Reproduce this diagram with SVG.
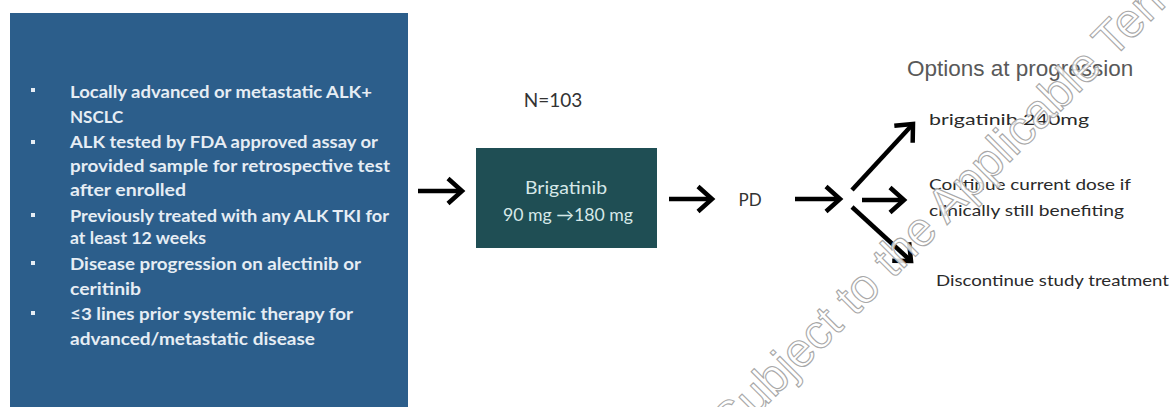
<svg xmlns="http://www.w3.org/2000/svg" width="1172" height="407" viewBox="0 0 1172 407">
  <defs>
    <style>
      .crit { font-family: Lato, "Liberation Sans", sans-serif; font-size: 17px; font-weight: bold; fill: #e6edf4; }
      .box { font-family: Lato, "Liberation Sans", sans-serif; font-size: 17px; fill: #d6e8e8; text-anchor: middle; }
      .lbl { font-family: Lato, "Liberation Sans", sans-serif; fill: #333333; }
      .opt { font-family: Lato, "Liberation Sans", sans-serif; font-size: 16px; fill: #2a2a2a; }
      .arrow { stroke: #000; stroke-width: 4.5; fill: none; marker-end: url(#head); }
      .wm { font-family: "Liberation Sans", Arial, sans-serif; font-size: 48px; fill: #ffffff; fill-opacity: 0.85; stroke: #a8a8a8; stroke-width: 1.1; }
    </style>
    <marker id="head" viewBox="-18 -16 22 32" markerWidth="22" markerHeight="32" refX="0" refY="0" orient="auto" markerUnits="userSpaceOnUse" overflow="visible">
      <path d="M-14,-12.5 L0,0 L-14,12.5" fill="none" stroke="#000" stroke-width="4.5" stroke-linejoin="miter"/>
    </marker>
  </defs>
  <rect width="1172" height="407" fill="#ffffff"/>

  <g id="criteria">
    <rect x="10" y="13" width="398" height="400" fill="#2c5e8b"/>
    <g fill="#e6edf4">
      <rect x="31" y="88" width="4" height="4"/>
      <rect x="31" y="140" width="4" height="4"/>
      <rect x="31" y="213" width="4" height="4"/>
      <rect x="31" y="261" width="4" height="4"/>
      <rect x="31" y="311" width="4" height="4"/>
    </g>
    <text class="crit" x="70" y="98" textLength="302" lengthAdjust="spacingAndGlyphs">Locally advanced or metastatic ALK+</text>
    <text class="crit" x="70" y="123">NSCLC</text>
    <text class="crit" x="70" y="148" textLength="308" lengthAdjust="spacingAndGlyphs">ALK tested by FDA approved assay or</text>
    <text class="crit" x="70" y="172" textLength="320" lengthAdjust="spacingAndGlyphs">provided sample for retrospective test</text>
    <text class="crit" x="70" y="196" textLength="116" lengthAdjust="spacingAndGlyphs">after enrolled</text>
    <text class="crit" x="70" y="222" textLength="319" lengthAdjust="spacingAndGlyphs">Previously treated with any ALK TKI for</text>
    <text class="crit" x="70" y="244" textLength="136" lengthAdjust="spacingAndGlyphs">at least 12 weeks</text>
    <text class="crit" x="70" y="270" textLength="291" lengthAdjust="spacingAndGlyphs">Disease progression on alectinib or</text>
    <text class="crit" x="70" y="295" textLength="71" lengthAdjust="spacingAndGlyphs">ceritinib</text>
    <text class="crit" x="70" y="320" textLength="283" lengthAdjust="spacingAndGlyphs">≤3 lines prior systemic therapy for</text>
    <text class="crit" x="70" y="345" textLength="245" lengthAdjust="spacingAndGlyphs">advanced/metastatic disease</text>
  </g>

  <g id="n-label">
    <text class="lbl" x="553" y="107" font-size="19" text-anchor="middle" fill="#444">N=103</text>
  </g>

  <g id="brigatinib">
    <rect x="476" y="148" width="181" height="100" fill="#1f4e54"/>
    <text class="box" x="566" y="194" textLength="82" lengthAdjust="spacingAndGlyphs">Brigatinib</text>
    <text class="box" x="568" y="221" textLength="130" lengthAdjust="spacingAndGlyphs">90 mg →180 mg</text>
  </g>

  <g id="pd">
    <text class="lbl" x="750" y="206" font-size="17" text-anchor="middle">PD</text>
  </g>

  <g id="options-title">
    <text x="907" y="76" font-family="'Liberation Sans', Arial, sans-serif" font-size="22.5" fill="#595959">Options at progression</text>
  </g>

  <g id="opt-dose">
    <text class="opt" x="929" y="125" font-size="18" textLength="160" lengthAdjust="spacingAndGlyphs">brigatinib 240mg</text>
  </g>
  <g id="opt-continue">
    <text class="opt" x="929" y="190" textLength="202" lengthAdjust="spacingAndGlyphs">Continue current dose if</text>
    <text class="opt" x="929" y="216" textLength="195" lengthAdjust="spacingAndGlyphs">clinically still benefiting</text>
  </g>
  <g id="opt-discontinue">
    <text class="opt" x="936" y="286" textLength="233" lengthAdjust="spacingAndGlyphs">Discontinue study treatment</text>
  </g>

  <g id="connectors">
    <line class="arrow" x1="418" y1="191" x2="462" y2="191"/>
    <line class="arrow" x1="669" y1="199" x2="712" y2="199"/>
    <line class="arrow" x1="795" y1="199" x2="840" y2="199"/>
    <line class="arrow" x1="852" y1="190" x2="913" y2="124"/>
    <line class="arrow" x1="862" y1="200" x2="904" y2="200"/>
    <line class="arrow" x1="852" y1="207" x2="911" y2="261"/>
  </g>

  <g id="watermark">
    <text class="wm" transform="translate(732,440) rotate(-45)">Subject to the Applicable Terms</text>
  </g>
</svg>
